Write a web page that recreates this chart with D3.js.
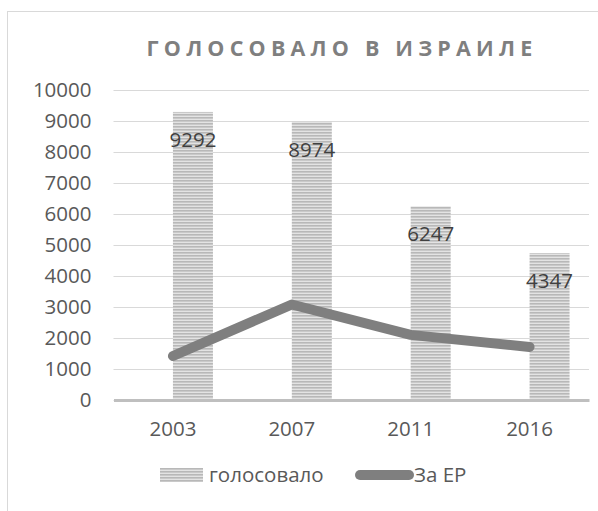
<!DOCTYPE html>
<html>
<head>
<meta charset="utf-8">
<script src="https://cdn.jsdelivr.net/npm/d3@7"></script>
<style>
  body { margin: 0; background: #fff; }
  text { font-family: "Open Sans", sans-serif; }
</style>
</head>
<body>
<div id="vis1"></div>
<script>
// data
const YEARS = ["2003", "2007", "2011", "2016"];
const VOTED = [9292, 8974, 6247, 4740];            // голосовало (bar heights as drawn)
const VOTED_LABELS = ["9292", "8974", "6247", "4347"];
const FOR_ER = [1420, 3080, 2100, 1710];           // За ЕР
const Y_TICKS = [0, 1000, 2000, 3000, 4000, 5000, 6000, 7000, 8000, 9000, 10000];

//frame
const FRAME_WIDTH = 598;
const FRAME_HEIGHT = 511;
const MARGINS = {left: 113.5, right: 9, top: 90, bottom: 111};
const VIS_WIDTH = FRAME_WIDTH - MARGINS.left - MARGINS.right;
const VIS_HEIGHT = FRAME_HEIGHT - MARGINS.top - MARGINS.bottom;

const FRAME1 = d3.select("#vis1")
  .append("svg")
    .attr("width", FRAME_WIDTH)
    .attr("height", FRAME_HEIGHT);

// striped fill for the bars
const defs = FRAME1.append("defs");
const pat = defs.append("pattern")
  .attr("id", "stripes")
  .attr("patternUnits", "userSpaceOnUse")
  .attr("width", 6).attr("height", 3);
pat.append("rect").attr("width", 6).attr("height", 3).attr("fill", "#e3e3e3");
pat.append("rect").attr("width", 6).attr("height", 1.6).attr("fill", "#b8b8b8");

// chart border
FRAME1.append("rect")
  .attr("x", 7.5).attr("y", 11.5)
  .attr("width", 700).attr("height", 600)
  .attr("fill", "none")
  .attr("stroke", "#d9d9d9");

// title
FRAME1.append("text")
  .attr("x", 342).attr("y", 56)
  .attr("text-anchor", "middle")
  .attr("font-size", "21.5px")
  .attr("font-weight", "bold")
  .attr("letter-spacing", "5.2px")
  .attr("fill", "#7f7f7f")
  .text("ГОЛОСОВАЛО В ИЗРАИЛЕ");

// scales
const X_SCALE = d3.scaleBand()
  .domain(YEARS)
  .range([0, VIS_WIDTH]);
const Y_SCALE = d3.scaleLinear()
  .domain([0, 10000])
  .range([VIS_HEIGHT, 0]);

const g = FRAME1.append("g")
  .attr("transform", "translate(" + MARGINS.left + "," + MARGINS.top + ")");

// gridlines
g.append("g")
  .call(d3.axisLeft(Y_SCALE).tickValues(Y_TICKS).tickSize(-VIS_WIDTH).tickFormat(""))
  .call(ax => ax.select(".domain").remove())
  .call(ax => ax.selectAll("line").attr("stroke", "#d9d9d9"));

// y tick labels
g.append("g")
  .call(d3.axisLeft(Y_SCALE).tickValues(Y_TICKS).tickSize(0).tickPadding(22).tickFormat(d3.format("d")))
  .call(ax => ax.select(".domain").remove())
  .call(ax => ax.selectAll("text")
    .attr("font-size", "20.5px")
    .attr("fill", "#595959"));

const BAR_W = 40;
const center = (d) => X_SCALE(d) + X_SCALE.bandwidth() / 2;

// bars
g.selectAll(".bar")
  .data(YEARS)
  .enter()
  .append("rect")
    .attr("class", "bar")
    .attr("x", (d) => center(d))
    .attr("y", (d, i) => Y_SCALE(VOTED[i]))
    .attr("width", BAR_W)
    .attr("height", (d, i) => VIS_HEIGHT - Y_SCALE(VOTED[i]))
    .attr("fill", "url(#stripes)");

// x axis
g.append("g")
  .attr("transform", "translate(0," + VIS_HEIGHT + ")")
  .call(d3.axisBottom(X_SCALE).tickSize(0).tickPadding(21))
  .call(ax => ax.select(".domain").attr("stroke", "#bfbfbf").attr("stroke-width", 3))
  .call(ax => ax.selectAll("text")
    .attr("font-size", "20.5px")
    .attr("fill", "#595959"));

// line
const line = d3.line()
  .x((d, i) => center(YEARS[i]))
  .y((d) => Y_SCALE(d));
g.append("path")
  .datum(FOR_ER)
  .attr("d", line)
  .attr("fill", "none")
  .attr("stroke", "#7f7f7f")
  .attr("stroke-width", 10)
  .attr("stroke-linecap", "round")
  .attr("stroke-linejoin", "round");

// data labels
g.selectAll(".lbl")
  .data(YEARS)
  .enter()
  .append("text")
    .attr("x", (d) => center(d) + BAR_W / 2)
    .attr("y", (d, i) => Y_SCALE(VOTED[i]) + 35)
    .attr("text-anchor", "middle")
    .attr("font-size", "20.5px")
    .attr("fill", "#404040")
    .text((d, i) => VOTED_LABELS[i]);

// legend
const leg = FRAME1.append("g");
leg.append("rect")
  .attr("x", 160).attr("y", 468)
  .attr("width", 43).attr("height", 14)
  .attr("fill", "url(#stripes)");
leg.append("text")
  .attr("x", 209).attr("y", 482)
  .attr("font-size", "20.5px")
  .attr("fill", "#595959")
  .text("голосовало");
leg.append("line")
  .attr("x1", 360).attr("x2", 409)
  .attr("y1", 475).attr("y2", 475)
  .attr("stroke", "#7f7f7f")
  .attr("stroke-width", 10)
  .attr("stroke-linecap", "round");
leg.append("text")
  .attr("x", 414).attr("y", 482)
  .attr("font-size", "20.5px")
  .attr("fill", "#595959")
  .text("За ЕР");
</script>
</body>
</html>
